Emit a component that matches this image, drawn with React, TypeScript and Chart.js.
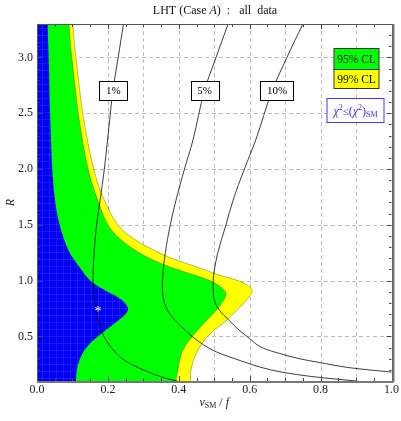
import React, { useEffect, useRef } from 'react';
import { Chart, registerables } from 'chart.js';

Chart.register(...registerables);

const FONT = "'Liberation Serif', 'DejaVu Serif', serif";

// ---- Region boundaries (x = vSM/f as a function of R) ----
const blueR = [3.3, 3.0, 2.5, 2.0, 1.72, 1.5, 1.27, 1.12, 1.0, 0.95, 0.9, 0.85, 0.8, 0.748, 0.7, 0.65, 0.6, 0.527, 0.434, 0.344, 0.223, 0.1];
const blueX = [0.03, 0.033, 0.037, 0.043, 0.051, 0.064, 0.089, 0.12, 0.15, 0.172, 0.2, 0.228, 0.248, 0.257, 0.25, 0.232, 0.212, 0.183, 0.149, 0.128, 0.114, 0.11];

const greenR = [3.3, 2.8, 2.44, 2.0, 1.75, 1.5, 1.37, 1.25, 1.17, 1.1, 1.05, 1.0, 0.95, 0.9, 0.86, 0.81, 0.733, 0.65, 0.556, 0.46, 0.374, 0.28, 0.195, 0.1];
const greenX = [0.09, 0.105, 0.119, 0.144, 0.168, 0.2, 0.235, 0.288, 0.338, 0.395, 0.443, 0.487, 0.515, 0.531, 0.532, 0.523, 0.505, 0.48, 0.453, 0.428, 0.411, 0.402, 0.397, 0.392];

const yellowR = [3.3, 2.8, 2.44, 2.0, 1.75, 1.5, 1.37, 1.26, 1.2, 1.15, 1.1, 1.05, 1.0, 0.95, 0.91, 0.86, 0.8, 0.73, 0.65, 0.5, 0.344, 0.195, 0.1];
const yellowX = [0.101, 0.117, 0.132, 0.16, 0.186, 0.228, 0.275, 0.338, 0.38, 0.425, 0.47, 0.513, 0.567, 0.598, 0.607, 0.6, 0.584, 0.562, 0.537, 0.481, 0.449, 0.434, 0.433];

// ---- Contour lines ----
const c1R = [3.3, 3.0, 2.7, 2.44, 2.0, 1.72, 1.5, 1.25, 1.0, 0.83, 0.65, 0.524, 0.44, 0.344, 0.28, 0.224, 0.17, 0.12, 0.1];
const c1X = [0.244, 0.229, 0.214, 0.205, 0.19, 0.178, 0.168, 0.161, 0.158, 0.161, 0.172, 0.185, 0.2, 0.225, 0.25, 0.283, 0.322, 0.368, 0.395];

const c5R = [3.3, 3.0, 2.7, 2.26, 2.0, 1.72, 1.5, 1.25, 1.0, 0.83, 0.7, 0.556, 0.48, 0.374, 0.3, 0.224, 0.18, 0.14, 0.12, 0.1];
const c5X = [0.539, 0.505, 0.472, 0.44, 0.416, 0.392, 0.376, 0.362, 0.354, 0.357, 0.375, 0.418, 0.445, 0.497, 0.558, 0.63, 0.69, 0.775, 0.835, 0.9];

const c10R = [3.3, 3.0, 2.7, 2.26, 2.0, 1.72, 1.5, 1.25, 1.09, 1.0, 0.83, 0.733, 0.65, 0.556, 0.48, 0.41, 0.36, 0.3, 0.27, 0.22, 0.18, 0.16];
const c10X = [0.75, 0.705, 0.663, 0.617, 0.585, 0.553, 0.533, 0.51, 0.5, 0.497, 0.5, 0.515, 0.54, 0.57, 0.6, 0.628, 0.67, 0.74, 0.79, 0.88, 1.0, 1.06];

const contourLabels = ['1%', '5%', '10%'];
const contourLabelX = [0.215, 0.473, 0.677];
const contourLabelR = 2.706;

const starX = 0.172;
const starR = 0.74;

const legendLabels = ['95% CL', '99% CL'];
const legendColors = ['#00ff00', '#ffff00'];

const xTicks = [0, 0.1, 0.2, 0.3, 0.4, 0.5, 0.6, 0.7, 0.8, 0.9, 1.0];
const yTicks = [0.5, 1.0, 1.5, 2.0, 2.5, 3.0];
const xMin = 0, xMax = 1.0, yMin = 0.1, yMax = 3.3;

function pts(xs: number[], rs: number[]) {
  return xs.map((x, i) => ({ x, y: rs[i] }));
}
function polygon(xs: number[], rs: number[]) {
  const p = pts(xs, rs);
  return [
    { x: xs[0], y: yMax + 0.3 },
    ...p,
    { x: xs[xs.length - 1], y: yMin - 0.3 },
    { x: xMin - 0.3, y: yMin - 0.3 },
    { x: xMin - 0.3, y: yMax + 0.3 },
  ];
}

type Part = { t: string; size: number; italic?: boolean; dy?: number };
function drawRich(ctx: CanvasRenderingContext2D, parts: Part[], cx: number, cy: number, color: string) {
  let total = 0;
  const widths = parts.map((p) => {
    ctx.font = `${p.italic ? 'italic ' : ''}${p.size}px ${FONT}`;
    const w = ctx.measureText(p.t).width;
    total += w;
    return w;
  });
  let x = cx - total / 2;
  ctx.fillStyle = color;
  ctx.textAlign = 'left';
  ctx.textBaseline = 'alphabetic';
  parts.forEach((p, i) => {
    ctx.font = `${p.italic ? 'italic ' : ''}${p.size}px ${FONT}`;
    ctx.fillText(p.t, x, cy + (p.dy || 0));
    x += widths[i];
  });
}

const decoPlugin = {
  id: 'deco',
  beforeDatasetsDraw(chart: any) {
    const { ctx, chartArea: a, scales } = chart;
    const xs = scales.x, ys = scales.y;
    ctx.save();
    ctx.strokeStyle = '#bdbdbd';
    ctx.lineWidth = 1;
    ctx.setLineDash([4, 3]);
    ctx.beginPath();
    xTicks.forEach((v) => {
      if (v <= xMin || v >= xMax) return;
      const px = Math.round(xs.getPixelForValue(v)) + 0.5;
      ctx.moveTo(px, a.top);
      ctx.lineTo(px, a.bottom);
    });
    yTicks.forEach((v) => {
      const py = Math.round(ys.getPixelForValue(v)) + 0.5;
      ctx.moveTo(a.left, py);
      ctx.lineTo(a.right, py);
    });
    ctx.stroke();
    ctx.restore();
  },
  afterDatasetsDraw(chart: any) {
    const { ctx, chartArea: a, scales } = chart;
    const xs = scales.x, ys = scales.y;
    ctx.save();

    // asterisk
    ctx.fillStyle = '#ffffff';
    ctx.font = `14px ${FONT}`;
    ctx.textAlign = 'center';
    ctx.textBaseline = 'middle';
    ctx.fillText('*', xs.getPixelForValue(starX), ys.getPixelForValue(starR) + 3);

    // contour labels
    ctx.font = `11px ${FONT}`;
    contourLabels.forEach((t, i) => {
      const cx = xs.getPixelForValue(contourLabelX[i]);
      const cy = ys.getPixelForValue(contourLabelR);
      const w = Math.round(ctx.measureText(t).width + 13);
      const h = 19;
      const l = Math.round(cx - w / 2) + 0.5;
      const tp = Math.round(cy - h / 2) + 0.5;
      ctx.fillStyle = '#ffffff';
      ctx.fillRect(l, tp, w, h);
      ctx.strokeStyle = '#000000';
      ctx.lineWidth = 1;
      ctx.strokeRect(l, tp, w, h);
      ctx.fillStyle = '#000000';
      ctx.textAlign = 'center';
      ctx.textBaseline = 'middle';
      ctx.fillText(t, cx, cy + 1);
    });

    // legend boxes (CL)
    const lx = a.right - 57.5, lw = 45;
    const tops = [a.top + 24.5, a.top + 45.5];
    const hs = [21, 19];
    legendLabels.forEach((t, i) => {
      ctx.fillStyle = legendColors[i];
      ctx.fillRect(lx, tops[i], lw, hs[i]);
      ctx.strokeStyle = '#333333';
      ctx.lineWidth = 1;
      ctx.strokeRect(lx, tops[i], lw, hs[i]);
      ctx.fillStyle = '#000000';
      ctx.font = `11.5px ${FONT}`;
      ctx.textAlign = 'center';
      ctx.textBaseline = 'middle';
      ctx.fillText(t, lx + lw / 2, tops[i] + hs[i] / 2 + 1);
    });

    // chi^2 box
    const bx = a.right - 64.5, by = a.top + 74.5, bw = 57, bh = 24;
    ctx.fillStyle = '#ffffff';
    ctx.fillRect(bx, by, bw, bh);
    ctx.strokeStyle = '#3a3aff';
    ctx.lineWidth = 1;
    ctx.strokeRect(bx, by, bw, bh);
    drawRich(ctx, [
      { t: 'χ', size: 12, italic: true },
      { t: '2', size: 8, dy: -5 },
      { t: '≤', size: 11 },
      { t: '(', size: 12 },
      { t: 'χ', size: 12, italic: true },
      { t: '2', size: 8, dy: -5 },
      { t: ')', size: 12 },
      { t: 'SM', size: 8, dy: 2 },
    ], bx + bw / 2, by + bh / 2 + 4, '#3030ff');

    // inward ticks
    ctx.strokeStyle = '#444444';
    ctx.lineWidth = 1;
    ctx.beginPath();
    for (let i = 0; i <= 20; i++) {
      const v = i * 0.05;
      const px = Math.round(xs.getPixelForValue(v)) + 0.5;
      const len = i % 4 === 0 ? 5 : 3;
      ctx.moveTo(px, a.bottom);
      ctx.lineTo(px, a.bottom - len);
      ctx.moveTo(px, a.top);
      ctx.lineTo(px, a.top + len);
    }
    for (let i = 1; i <= 32; i++) {
      const v = i * 0.1;
      const py = Math.round(ys.getPixelForValue(v)) + 0.5;
      const len = i % 5 === 0 ? 5 : 2.5;
      ctx.moveTo(a.left, py);
      ctx.lineTo(a.left + len, py);
      ctx.moveTo(a.right, py);
      ctx.lineTo(a.right - len, py);
    }
    ctx.stroke();

    // frame
    ctx.strokeStyle = '#555555';
    ctx.lineWidth = 1;
    ctx.strokeRect(Math.round(a.left) + 0.5, Math.round(a.top) + 0.5, Math.round(a.right - a.left), Math.round(a.bottom - a.top));
    ctx.strokeStyle = '#777777';
    ctx.lineWidth = 2;
    ctx.beginPath();
    ctx.moveTo(Math.round(a.right) + 1.5, a.top);
    ctx.lineTo(Math.round(a.right) + 1.5, a.bottom + 1);
    ctx.moveTo(a.left, Math.round(a.bottom) + 1);
    ctx.lineTo(a.right + 2, Math.round(a.bottom) + 1);
    ctx.stroke();
    ctx.restore();
  },
  afterDraw(chart: any) {
    const { ctx, chartArea: a } = chart;
    ctx.save();
    // title
    drawRich(ctx, [
      { t: 'LHT (Case ', size: 12 },
      { t: 'A', size: 12, italic: true },
      { t: ')  :   all  data', size: 12 },
    ], 215, 14, '#111111');
    // x title
    drawRich(ctx, [
      { t: 'v', size: 12, italic: true },
      { t: 'SM', size: 8, dy: 2 },
      { t: ' / ', size: 12 },
      { t: 'f', size: 12, italic: true },
    ], (a.left + a.right) / 2, 406, '#222222');
    // y title
    ctx.translate(14, (a.top + a.bottom) / 2);
    ctx.rotate(-Math.PI / 2);
    drawRich(ctx, [{ t: 'R', size: 12, italic: true }], 0, 0, '#222222');
    ctx.restore();
  },
};

export default function App() {
  const ref = useRef<HTMLCanvasElement | null>(null);
  useEffect(() => {
    const canvas = ref.current;
    if (!canvas) return;
    const ctx2 = canvas.getContext('2d')!;
    const pc = document.createElement('canvas');
    pc.width = 7;
    pc.height = 7;
    const g = pc.getContext('2d')!;
    g.fillStyle = '#0000f8';
    g.fillRect(0, 0, 7, 7);
    g.fillStyle = 'rgba(70,70,255,0.35)';
    g.fillRect(0, 0, 7, 1);
    g.fillRect(0, 0, 1, 7);
    const bluePattern = ctx2.createPattern(pc, 'repeat');

    const lineStyle = {
      showLine: true,
      pointRadius: 0,
      borderColor: 'rgba(0,0,0,0.85)',
      borderWidth: 0.9,
      fill: false,
      tension: 0.35,
      order: 1,
    };

    const chart = new Chart(canvas, {
      type: 'scatter',
      data: {
        datasets: [
          {
            data: polygon(yellowX, yellowR),
            showLine: true,
            pointRadius: 0,
            backgroundColor: '#ffff00',
            borderColor: 'rgba(90,90,0,0.6)',
            borderWidth: 0.7,
            fill: 'shape',
            tension: 0.35,
            order: 5,
          },
          {
            data: polygon(greenX, greenR),
            showLine: true,
            pointRadius: 0,
            backgroundColor: '#00ff00',
            borderColor: 'rgba(60,90,0,0.6)',
            borderWidth: 0.7,
            fill: 'shape',
            tension: 0.35,
            order: 4,
          },
          {
            data: polygon(blueX, blueR),
            showLine: true,
            pointRadius: 0,
            backgroundColor: bluePattern || '#0000ff',
            borderColor: '#0000f0',
            borderWidth: 0,
            fill: 'shape',
            tension: 0.35,
            order: 3,
          },
          { ...lineStyle, data: pts(c1X, c1R) },
          { ...lineStyle, data: pts(c5X, c5R) },
          { ...lineStyle, data: pts(c10X, c10R) },
        ] as any,
      },
      options: {
        animation: false,
        responsive: false,
        devicePixelRatio: 1,
        events: [],
        layout: { padding: { top: 24, right: 8, left: 0, bottom: 0 } },
        elements: { line: { capBezierPoints: false } },
        plugins: {
          legend: { display: false },
          tooltip: { enabled: false },
          title: { display: false },
        },
        scales: {
          x: {
            type: 'linear',
            min: xMin,
            max: xMax,
            afterBuildTicks: (s: any) => {
              s.ticks = xTicks.map((value) => ({ value }));
            },
            afterFit: (s: any) => {
              s.height = 40;
            },
            ticks: {
              autoSkip: false,
              maxRotation: 0,
              padding: 2,
              color: '#222222',
              font: { family: FONT, size: 12 },
              callback: (v: any) => (Math.round(Number(v) * 10) % 2 === 0 ? Number(v).toFixed(1) : ''),
            },
            grid: { display: false, drawTicks: false },
            border: { display: false },
          },
          y: {
            type: 'linear',
            min: yMin,
            max: yMax,
            afterBuildTicks: (s: any) => {
              s.ticks = yTicks.map((value) => ({ value }));
            },
            afterFit: (s: any) => {
              s.width = 37;
            },
            ticks: {
              autoSkip: false,
              padding: 4,
              color: '#222222',
              font: { family: FONT, size: 12 },
              callback: (v: any) => Number(v).toFixed(1),
            },
            grid: { display: false, drawTicks: false },
            border: { display: false },
          },
        },
      } as any,
      plugins: [decoPlugin],
    });
    return () => chart.destroy();
  }, []);

  return (
    <div style={{ position: 'fixed', left: 0, top: 0, width: 401, height: 421, background: '#ffffff' }}>
      <canvas ref={ref} width={401} height={421} style={{ width: 401, height: 421, display: 'block' }} />
    </div>
  );
}
